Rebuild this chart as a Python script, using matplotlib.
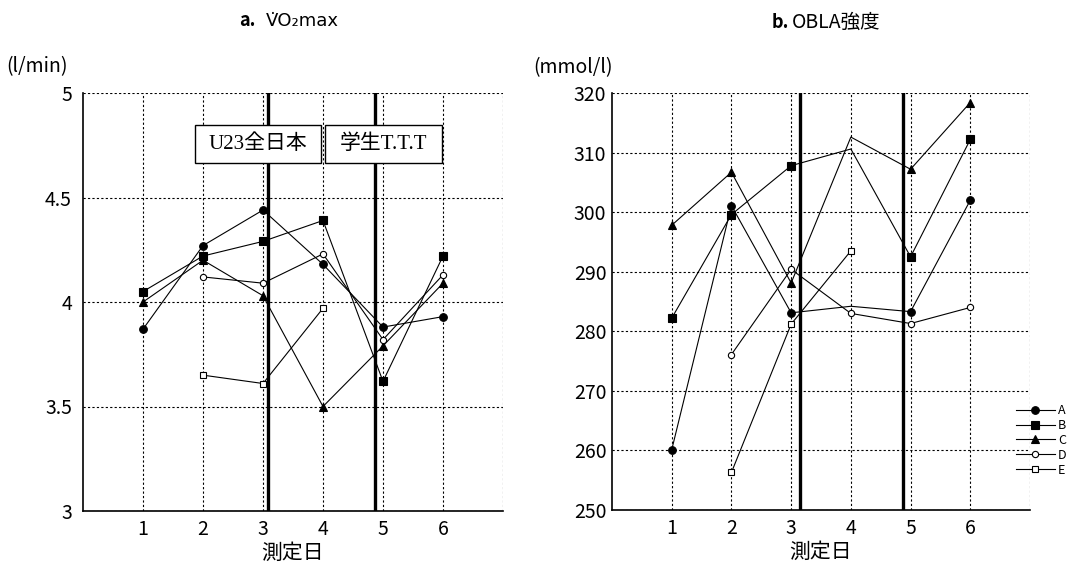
import matplotlib
matplotlib.use('Agg')
import matplotlib.pyplot as plt
from matplotlib.lines import Line2D
from matplotlib.patches import Rectangle
import numpy as np

plt.rcParams['font.family'] = ['Noto Sans CJK JP', 'DejaVu Sans']

nan = np.nan
days = [1, 2, 3, 4, 5, 6]
names = ['A', 'B', 'C', 'D', 'E']

# a. VO2max (l/min)
vo2_A = [3.87, 4.27, 4.44, 4.18, 3.88, 3.93]
vo2_B = [4.05, 4.22, 4.29, 4.39, 3.62, 4.22]
vo2_C = [4.00, 4.20, 4.03, 3.50, 3.79, 4.09]
vo2_D = [nan, 4.12, 4.09, 4.23, 3.82, 4.13]
vo2_E = [nan, 3.65, 3.61, 3.97, nan, nan]

# b. OBLA強度 (mmol/l)
obla_A = [260.1, 301.1, 283.1, 284.2, 283.3, 302.0]
obla_B = [282.2, 299.6, 307.8, 310.6, 292.5, 312.2]
obla_C = [297.8, 306.7, 288.1, 312.6, 307.2, 318.4]
obla_D = [nan, 276.1, 290.4, 283.0, 281.3, 284.0]
obla_E = [nan, 256.3, 281.2, 293.5, nan, nan]
obla_nomark = {'A': [3], 'B': [3], 'C': [3]}  # day 4 has no symbol for A,B,C

# races (thick lines) between measurement days
races_a = [3.09, 4.86]
races_b = [3.14, 4.875]
race_names = ['U23全日本', '学生T.T.T']

# marker, face colour, size
styles = {'A': ('o', 'black', 5.5),
          'B': ('s', 'black', 6),
          'C': ('^', 'black', 5.5),
          'D': ('o', 'white', 4.5),
          'E': ('s', 'white', 4.5)}

fig = plt.figure(figsize=(10.7, 5.79), dpi=100)
ax1 = fig.add_axes([83/1070, 1-511/579, 420/1070, 418/579])
ax2 = fig.add_axes([612/1070, 1-510/579, 418/1070, 417/579])


def setup(ax, ylim, yticks, yticklabels, ypad):
    ax.set_xlim(0, 7)
    ax.set_ylim(*ylim)
    ax.set_xticks(range(1, 8))
    ax.set_xticklabels([str(d) for d in days] + [''])
    ax.set_yticks(yticks)
    ax.set_yticklabels(yticklabels)
    ax.tick_params(axis='x', length=0, pad=6, labelsize=14)
    ax.tick_params(axis='y', length=0, pad=ypad, labelsize=14)
    ax.grid(True, color='black', lw=0.8, ls=(0, (2, 2)))
    ax.set_axisbelow(True)
    for s in ['top', 'right']:
        ax.spines[s].set_visible(False)
    for s in ['left', 'bottom']:
        ax.spines[s].set_linewidth(1.2)
    ax.set_xlabel('測定日', fontsize=15, labelpad=1)


def draw(ax, series, nomark=None):
    nomark = nomark or {}
    for n, ys in zip(names, series):
        m, fc, ms = styles[n]
        ys = np.array(ys, dtype=float)
        ok = ~np.isnan(ys)
        x = np.array(days)[ok]
        y = ys[ok]
        ax.plot(x, y, color='black', lw=0.8, zorder=3)
        keep = [i for i in range(len(days)) if ok[i] and i not in nomark.get(n, [])]
        ax.plot(np.array(days)[keep], ys[keep], ls='none', marker=m, mfc=fc,
                mec='black', mew=0.8, ms=ms, zorder=4)


# a
setup(ax1, (3, 5), [3, 3.5, 4, 4.5, 5], ['3', '3.5', '4', '4.5', '5'], 8)
draw(ax1, [vo2_A, vo2_B, vo2_C, vo2_D, vo2_E])
for r in races_a:
    ax1.axvline(r, color='black', lw=2.4, zorder=2)
ax1.add_patch(Rectangle((1.87, 4.665), 2.10, 0.182, fc='white', ec='black', lw=1, zorder=5))
ax1.add_patch(Rectangle((4.03, 4.665), 1.95, 0.182, fc='white', ec='black', lw=1, zorder=5))
ax1.text(2.92, 4.756, race_names[0], ha='center', va='center', fontsize=15, zorder=6,
         family=['Liberation Serif', 'Noto Sans CJK JP'])
ax1.text(5.005, 4.756, race_names[1], ha='center', va='center', fontsize=15, zorder=6,
         family=['Liberation Serif', 'Noto Sans CJK JP'])

# b
setup(ax2, (250, 320), range(250, 321, 10), [str(v) for v in range(250, 321, 10)], 4)
draw(ax2, [obla_A, obla_B, obla_C, obla_D, obla_E], obla_nomark)
for r in races_b:
    ax2.axvline(r, color='black', lw=2.4, zorder=2)

# units and titles
fig.text(6/1070, 1-67/579, '(l/min)', ha='left', va='center', fontsize=14)
fig.text(533/1070, 1-68/579, '(mmol/l)', ha='left', va='center', fontsize=14)
fig.text(256/1070, 1-21/579, 'a.', ha='right', va='center', fontsize=13, fontweight='bold')
fig.text(266/1070, 1-21/579, 'V\u0307O\u2082max', ha='left', va='center', fontsize=13,
         family='DejaVu Sans')
fig.text(789/1070, 1-22/579, 'b.', ha='right', va='center', fontsize=13, fontweight='bold')
fig.text(792/1070, 1-22/579, 'OBLA強度', ha='left', va='center', fontsize=14)

# legend
handles = []
for n in names:
    m, fc, ms = styles[n]
    handles.append(Line2D([], [], color='black', lw=0.8, marker=m, mfc=fc,
                          mec='black', mew=0.8, ms=ms))
fig.legend(handles, names, loc='upper left', bbox_to_anchor=(1016/1070, 1-404/579),
           frameon=False, fontsize=9, handlelength=3.1, handletextpad=0.25,
           labelspacing=0.15, borderpad=0, borderaxespad=0)

fig.savefig('out.png', dpi=100)
